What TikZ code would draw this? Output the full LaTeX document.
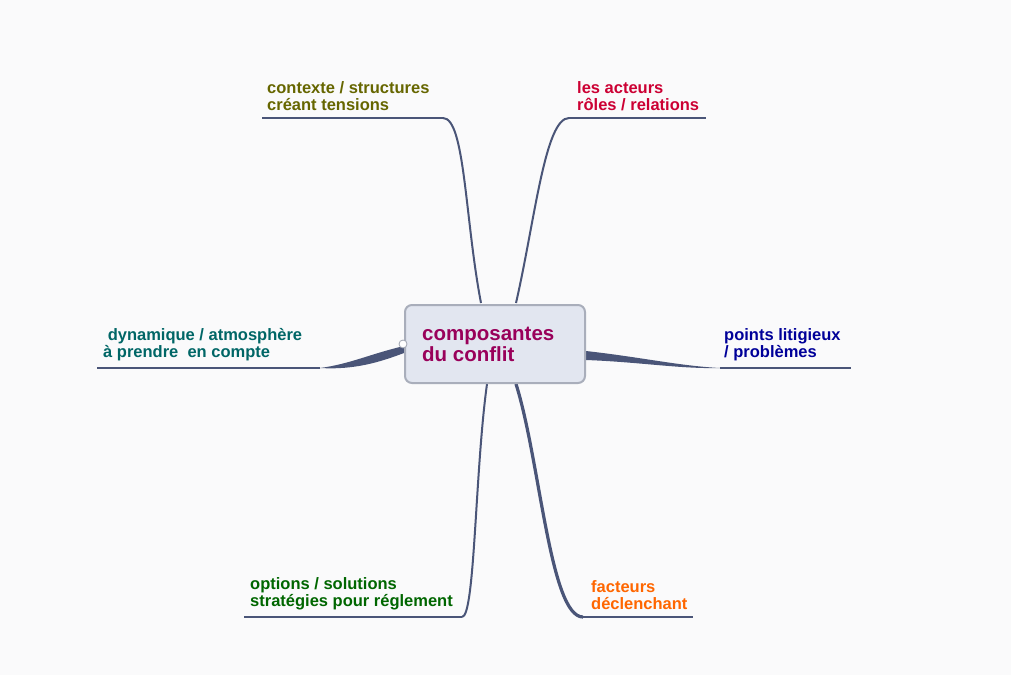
\documentclass[tikz,border=0pt]{standalone}
\usepackage{fontspec}
\setmainfont{Liberation Sans}
\begin{document}
\begin{tikzpicture}[x=1pt,y=-1pt,
  br/.style={draw=brc,line width=2pt},
  ul/.style={draw=brc,line width=1.3pt},
  lbl/.style={anchor=south west,align=left,font=\bfseries\fontsize{16.5}{17}\selectfont,inner sep=0pt}]
\definecolor{brc}{HTML}{4A5578}
\definecolor{bg}{HTML}{FAFAFB}
\fill[bg] (0,0) rectangle (1011,675);
\useasboundingbox (0,0) rectangle (1011,675);
% branches
\coordinate (tl) at (443,118); \coordinate (tr) at (569,118);
\coordinate (l) at (320,368); \coordinate (r) at (720,368);
\coordinate (bl) at (462,617); \coordinate (br) at (583,617);
\draw[br] (481,303) .. controls (465,220) and (465,118) .. (tl);
\draw[ul] (tl) -- (262,118);
\draw[br] (516,303) .. controls (535,220) and (545,118) .. (tr);
\draw[ul] (tr) -- (706,118);
\fill[brc] (404,346) .. controls (370,354) and (350,364) .. (l) -- (l) .. controls (355,370) and (380,362) .. (404,353) -- cycle;
\draw[ul] (l) -- (97,368);
\fill[brc] (586,351) .. controls (640,357) and (680,366) .. (r) -- (r) .. controls (680,369) and (640,362) .. (586,360) -- cycle;
\draw[ul] (r) -- (851,368);
\draw[br] (487,384) .. controls (475,470) and (475,617) .. (bl);
\draw[ul] (bl) -- (244,617);
\draw[brc,line width=3.2pt] (516,384) .. controls (540,460) and (550,617) .. (br);
\draw[ul] (br) -- (693,617);
% center
\node[draw={rgb,255:red,169;green,174;blue,187},line width=2pt,fill={rgb,255:red,226;green,230;blue,240},rounded corners=7pt,minimum width=180pt,minimum height=78pt,inner sep=0pt] (c) at (495,344) {};
\node[anchor=west,align=left,text={rgb,255:red,153;green,0;blue,90},font=\bfseries\fontsize{20.5}{21}\selectfont,inner sep=0pt] (ct) at (422,344) {composantes\\du conflit};
\draw[draw={rgb,255:red,160;green,165;blue,178},fill=white,line width=0.8pt] (403,344) circle (4);
% labels
\node[lbl,text={rgb,255:red,102;green,102;blue,0}] (t1) at (267,111) {contexte / structures\\créant tensions};
\node[lbl,text={rgb,255:red,204;green,0;blue,51}] (t2) at (577,111) {les acteurs\\rôles / relations};
\node[lbl,text={rgb,255:red,0;green,102;blue,102}] (t3) at (103,361) {\ dynamique / atmosphère\\à prendre\ \ en compte};
\node[lbl,text={rgb,255:red,0;green,0;blue,153}] (t4) at (724,361) {points litigieux\\/ problèmes};
\node[lbl,text={rgb,255:red,0;green,102;blue,0}] (t5) at (250,610) {options / solutions\\stratégies pour réglement};
\node[lbl,text={rgb,255:red,255;green,102;blue,0}] (t6) at (591,610) {facteurs\\déclenchant};
\end{tikzpicture}
\end{document}
